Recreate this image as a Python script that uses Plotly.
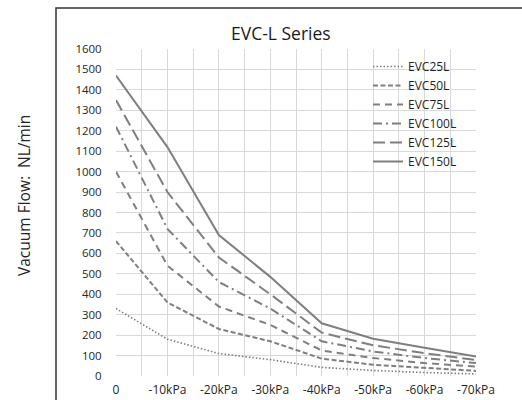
import plotly.graph_objects as go

pressures = [0, -10, -20, -30, -40, -50, -60, -70]
tick_labels = ["0", "-10kPa", "-20kPa", "-30kPa", "-40kPa", "-50kPa", "-60kPa", "-70kPa"]

series_names = ["EVC25L", "EVC50L", "EVC75L", "EVC100L", "EVC125L", "EVC150L"]
evc25 = [330, 180, 110, 80, 42, 27, 17, 10]
evc50 = [660, 360, 230, 170, 85, 55, 40, 25]
evc75 = [1000, 540, 340, 250, 125, 88, 63, 46]
evc100 = [1220, 720, 460, 330, 170, 120, 88, 63]
evc125 = [1350, 900, 580, 400, 212, 150, 112, 78]
evc150 = [1470, 1120, 690, 485, 258, 182, 138, 95]

values = [evc25, evc50, evc75, evc100, evc125, evc150]
dashes = ["1.5px,2px", "5px,2.5px", "7px,5px", "9px,4px,2px,4px", "12px,5px", "solid"]
widths = [1.6, 2, 2, 2, 2, 2]

W, H = 522, 400
L, R, T, B = 116, 476, 49, 376

fig = go.Figure()
for name, ys, d, w in zip(series_names, values, dashes, widths):
    fig.add_trace(go.Scatter(x=pressures, y=ys, name=name, mode="lines",
                             line=dict(color="#7f7f7f", width=w, dash=d)))

font = "Open Sans"
fig.update_layout(
    width=W, height=H,
    margin=dict(l=L, r=W - R, t=T, b=H - B, pad=0, autoexpand=False),
    paper_bgcolor="white", plot_bgcolor="white",
    font=dict(family=font, size=11, color="#333333"),
    showlegend=True,
    legend=dict(x=(368 - L) / (R - L), y=(B - 52) / (B - T), xanchor="left", yanchor="top",
                bgcolor="rgba(0,0,0,0)", font=dict(size=12, color="#1f1f1f"),
                tracegroupgap=0, itemwidth=30),
    xaxis=dict(range=[0, -70], tickvals=pressures, ticktext=tick_labels, automargin=False,
               showgrid=True, gridcolor="#d9d9d9", gridwidth=1,
               minor=dict(dtick=5, showgrid=True, gridcolor="#d9d9d9", gridwidth=1),
               zeroline=False, showline=False, ticks="outside", ticklen=3, tickcolor="rgba(0,0,0,0)",
               tickfont=dict(size=12, color="#262626")),
    yaxis=dict(range=[0, 1600], dtick=100, showgrid=True, gridcolor="#d9d9d9", gridwidth=1,
               automargin=False,
               zeroline=False, showline=False, ticks="outside", ticklen=11, tickcolor="rgba(0,0,0,0)",
               tickfont=dict(size=11.5, color="#262626")),
)

# outer border box (partially cropped at right and bottom)
fig.add_shape(type="rect", xref="paper", yref="paper",
              x0=(56 - L) / (R - L), x1=(540 - L) / (R - L),
              y0=(B - 420) / (B - T), y1=(B - 8) / (B - T),
              line=dict(color="#333333", width=1.5), fillcolor="rgba(0,0,0,0)", layer="above")

fig.add_annotation(text="EVC-L Series", xref="paper", yref="paper",
                   x=(281 - L) / (R - L), y=(B - 33) / (B - T), showarrow=False,
                   xanchor="center", yanchor="middle",
                   font=dict(family=font, size=17.5, color="#1a1a1a"))

fig.add_annotation(text="Vacuum Flow:  NL/min", xref="paper", yref="paper",
                   x=(24 - L) / (R - L), y=(B - 196) / (B - T), showarrow=False,
                   textangle=-90, xanchor="center", yanchor="middle",
                   font=dict(family=font, size=15.5, color="#262626"))

fig.write_html("out.html", config={"displayModeBar": False},
               post_script="document.body.style.margin='0';")
